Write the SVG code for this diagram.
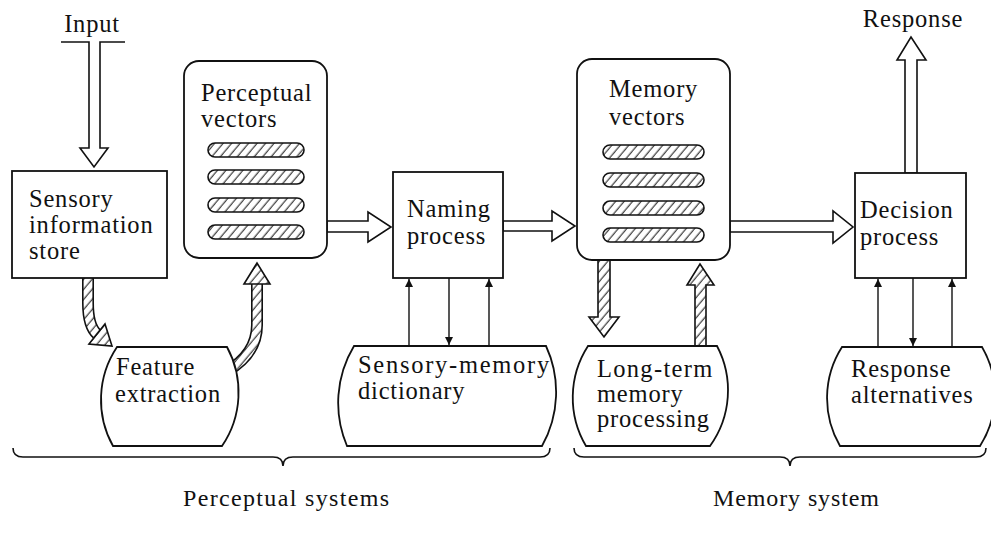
<svg xmlns="http://www.w3.org/2000/svg" width="991" height="536" viewBox="0 0 991 536">
  <defs>
    <style>
      .t { font-family: "Liberation Serif", "Times New Roman", serif; font-size: 24.5px; letter-spacing: 0.8px; fill: #111; }
      .lbl { font-family: "Liberation Serif", "Times New Roman", serif; font-size: 24px; fill: #111; }
      .box { fill: #fff; stroke: #111; stroke-width: 1.8; }
      .open { fill: #fff; stroke: #111; stroke-width: 1.6; stroke-linejoin: miter; }
      .hat { fill: url(#hatch); stroke: #111; stroke-width: 1.6; stroke-linejoin: miter; }
      .thin { fill: none; stroke: #111; stroke-width: 1.4; }
      .brace { fill: none; stroke: #111; stroke-width: 1.6; }
    </style>
    <pattern id="hatch" patternUnits="userSpaceOnUse" width="6.5" height="6.5" patternTransform="rotate(40)">
      <rect width="6.5" height="6.5" fill="#fff"/>
      <line x1="3" y1="0" x2="3" y2="6.5" stroke="#111" stroke-width="1"/>
    </pattern>
    <marker id="tip" viewBox="0 0 8 8" refX="8" refY="4" markerWidth="8" markerHeight="8" markerUnits="userSpaceOnUse" orient="auto">
      <path d="M0 0 L8 4 L0 8 Z" fill="#111"/>
    </marker>
  </defs>
  <rect width="991" height="536" fill="#fff"/>

  <g id="connectors">
    <!-- input feed into the sensory store -->
    <polyline class="open" points="61,42 89,42 89,148 80,148 94,167 108,148 100,148 100,42 125,42"/>
    <!-- curved hatched arrow: sensory store to feature extraction -->
    <path d="M88 276 L88 303 Q88 326 97 334" fill="none" stroke="#111" stroke-width="12"/>
    <path d="M88 276 L88 303 Q88 326 97 334" fill="none" stroke="url(#hatch)" stroke-width="8.8"/>
    <polygon class="hat" points="89,344 105,324 112,346"/>
    <!-- curved hatched arrow: feature extraction to perceptual vectors -->
    <path d="M226 372 Q257 354 257 325 L257 284" fill="none" stroke="#111" stroke-width="12"/>
    <path d="M226 372 Q257 354 257 325 L257 284" fill="none" stroke="url(#hatch)" stroke-width="8.8"/>
    <polygon class="hat" points="244,284 257,263 270,284"/>
    <!-- perceptual vectors to naming process -->
    <polygon class="open" points="327,221 368,221 368,212 391,227 368,242 368,232 327,232"/>
    <!-- naming process to memory vectors -->
    <polygon class="open" points="503,221 552,221 552,211 575,226 552,241 552,231 503,231"/>
    <!-- memory vectors to decision process -->
    <polygon class="open" points="730,221 833,221 833,211 853,227 833,243 833,232 730,232"/>
    <!-- response out of the decision process -->
    <polygon class="open" points="905,173 905,60 897,60 911,37 926,60 917,60 917,173"/>
    <!-- memory vectors down to long-term processing -->
    <polygon class="hat" points="598,259 610,259 610,317 619,317 604,337 589,317 598,317"/>
    <!-- long-term processing back up to memory vectors -->
    <polygon class="hat" points="695,347 706,347 706,285 714,285 700,264 687,285 695,285"/>
    <!-- naming process and its dictionary -->
    <line class="thin" x1="409" y1="346" x2="409" y2="279" marker-end="url(#tip)"/>
    <line class="thin" x1="449" y1="278" x2="449" y2="345" marker-end="url(#tip)"/>
    <line class="thin" x1="489" y1="346" x2="489" y2="279" marker-end="url(#tip)"/>
    <!-- decision process and its response alternatives -->
    <line class="thin" x1="878" y1="347" x2="878" y2="279" marker-end="url(#tip)"/>
    <line class="thin" x1="913" y1="278" x2="913" y2="346" marker-end="url(#tip)"/>
    <line class="thin" x1="952" y1="347" x2="952" y2="279" marker-end="url(#tip)"/>
  </g>

  <g id="input-label">
    <text class="t" x="92" y="32" text-anchor="middle">Input</text>
  </g>
  <g id="response-label">
    <text class="t" x="913" y="27" text-anchor="middle">Response</text>
  </g>

  <g id="sensory-store">
    <rect class="box" x="12" y="171" width="155" height="107"/>
    <text class="t" x="29" y="207">Sensory</text>
    <text class="t" x="29" y="233">information</text>
    <text class="t" x="29" y="259">store</text>
  </g>

  <g id="perceptual-vectors">
    <rect class="box" x="184" y="61" width="143" height="197" rx="15"/>
    <text class="t" x="201" y="101">Perceptual</text>
    <text class="t" x="201" y="127">vectors</text>
    <rect class="hat" x="208" y="143" width="96" height="14" rx="7"/>
    <rect class="hat" x="208" y="170" width="96" height="14" rx="7"/>
    <rect class="hat" x="208" y="198" width="96" height="14" rx="7"/>
    <rect class="hat" x="208" y="225" width="96" height="14" rx="7"/>
  </g>

  <g id="feature-extraction">
    <path class="box" d="M117 347 L227 347 A95 95 0 0 1 222 446 L113 446 A95 95 0 0 1 117 347 Z"/>
    <text class="t" x="116" y="375">Feature</text>
    <text class="t" x="115" y="402">extraction</text>
  </g>

  <g id="naming-process">
    <rect class="box" x="393" y="172" width="110" height="106"/>
    <text class="t" x="407" y="217">Naming</text>
    <text class="t" x="407" y="244">process</text>
  </g>

  <g id="sensory-memory-dictionary">
    <path class="box" d="M354 346 L546 346 A110 110 0 0 1 542 446 L347 446 A110 110 0 0 1 354 346 Z"/>
    <text class="t" x="358" y="373" textLength="192">Sensory-memory</text>
    <text class="t" x="358" y="399">dictionary</text>
  </g>

  <g id="memory-vectors">
    <rect class="box" x="577" y="59" width="153" height="201" rx="15"/>
    <text class="t" x="609" y="97">Memory</text>
    <text class="t" x="609" y="125">vectors</text>
    <rect class="hat" x="603" y="145" width="101" height="14" rx="7"/>
    <rect class="hat" x="603" y="173" width="101" height="14" rx="7"/>
    <rect class="hat" x="603" y="201" width="101" height="14" rx="7"/>
    <rect class="hat" x="603" y="228" width="101" height="14" rx="7"/>
  </g>

  <g id="long-term-memory">
    <path class="box" d="M588 346 L717 346 A95 95 0 0 1 710 446 L586 446 A95 95 0 0 1 588 346 Z"/>
    <text class="t" x="597" y="377" textLength="116">Long-term</text>
    <text class="t" x="597" y="402">memory</text>
    <text class="t" x="597" y="427">processing</text>
  </g>

  <g id="decision-process">
    <rect class="box" x="855" y="173" width="111" height="105"/>
    <text class="t" x="860" y="218">Decision</text>
    <text class="t" x="860" y="245">process</text>
  </g>

  <g id="response-alternatives">
    <path class="box" d="M842 347 L982 347 A95 95 0 0 1 980 446 L840 446 A95 95 0 0 1 842 347 Z"/>
    <text class="t" x="851" y="377">Response</text>
    <text class="t" x="851" y="403">alternatives</text>
  </g>

  <g id="perceptual-systems">
    <path class="brace" d="M13 448 Q13 457 23 457 L273 457 Q283 457 283 466 Q283 457 293 457 L540 457 Q550 457 550 448"/>
    <text class="lbl" x="286" y="506" text-anchor="middle" textLength="206">Perceptual systems</text>
  </g>

  <g id="memory-system">
    <path class="brace" d="M574 448 Q574 457 584 457 L780 457 Q790 457 790 466 Q790 457 800 457 L976 457 Q986 457 986 448"/>
    <text class="lbl" x="796" y="506" text-anchor="middle" textLength="166">Memory system</text>
  </g>
</svg>
